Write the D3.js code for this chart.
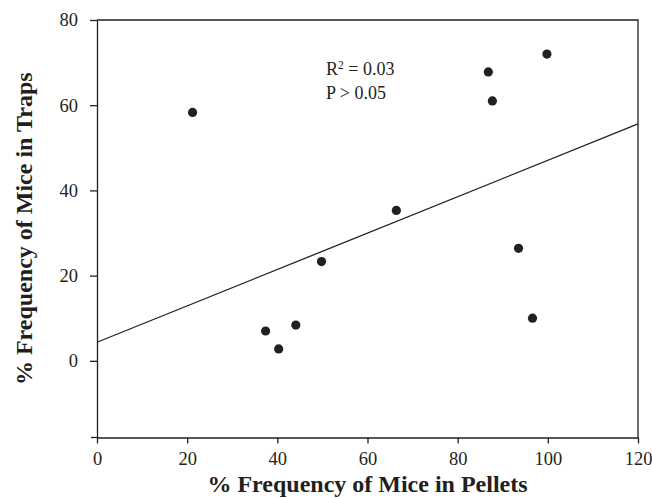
<!DOCTYPE html>
<html>
<head>
<meta charset="utf-8">
<script src="https://cdn.jsdelivr.net/npm/d3@7"></script>
<style>
  body { margin: 0; background: #fff; }
  svg { display: block; }
  text { font-family: "Liberation Serif", "Times New Roman", serif; fill: #231f20; }
</style>
</head>
<body>
<svg id="chart" width="652" height="498"></svg>
<script>
const pelletsPct = [21.2, 37.4, 40.3, 44.1, 49.8, 66.4, 86.8, 87.7, 99.8, 93.5, 96.6];
const trapsPct   = [58.3, 7.0, 2.8, 8.4, 23.3, 35.3, 67.8, 61.0, 72.0, 26.4, 10.0];
const fitIntercept = 4.36;
const fitSlope = 0.427;
const xTicks = [0, 20, 40, 60, 80, 100, 120];
const yTicks = [0, 20, 40, 60, 80];
const annotation = ["R", "2", " = 0.03", "P > 0.05"];

(function () {
const svg = d3.select("#chart");
const ink = "#231f20";
const pLeft = 97, pRight = 638, pTop = 20, pBottom = 437.5;

const x = d3.scaleLinear().domain([0, 120]).range([pLeft, pRight]);
const y = d3.scaleLinear().domain([-18, 80]).range([pBottom, pTop]);

// frame top & right
svg.append("path")
  .attr("d", `M${pLeft},${pTop}H${pRight}V${pBottom}`)
  .attr("fill", "none").attr("stroke", ink).attr("stroke-width", 1.3);

const xAxis = svg.append("g").attr("transform", `translate(0,${pBottom})`)
  .call(d3.axisBottom(x).tickValues(xTicks).tickSize(6).tickPadding(8).tickSizeOuter(0));
const yAxis = svg.append("g").attr("transform", `translate(${pLeft},0)`)
  .call(d3.axisLeft(y).tickValues(yTicks).tickSize(7).tickPadding(12).tickSizeOuter(0));

[xAxis, yAxis].forEach(g => {
  g.select(".domain").attr("stroke", ink).attr("stroke-width", 1.3);
  g.selectAll(".tick line").attr("stroke", ink).attr("stroke-width", 1.3);
  g.selectAll(".tick text").attr("font-family", "Liberation Serif").attr("font-size", 18.5).attr("fill", ink);
});
svg.append("line").attr("x1", pLeft - 6).attr("x2", pLeft).attr("y1", pBottom).attr("y2", pBottom)
  .attr("stroke", ink).attr("stroke-width", 1.3);

// regression line
svg.append("line")
  .attr("x1", x(0)).attr("y1", y(fitIntercept))
  .attr("x2", x(120)).attr("y2", y(fitIntercept + fitSlope * 120))
  .attr("stroke", ink).attr("stroke-width", 1.3);

// points
svg.append("g").selectAll("circle")
  .data(pelletsPct.map((v, i) => [v, trapsPct[i]]))
  .join("circle")
  .attr("cx", d => x(d[0])).attr("cy", d => y(d[1]))
  .attr("r", 4.6).attr("fill", ink);

// annotation
const t1 = svg.append("text").attr("x", 326).attr("y", 75).attr("font-size", 18);
t1.append("tspan").text(annotation[0]);
t1.append("tspan").attr("font-size", 11.5).attr("dy", -6.5).text(annotation[1]);
t1.append("tspan").attr("dy", 6.5).text(annotation[2]);
svg.append("text").attr("x", 326).attr("y", 98.5).attr("font-size", 18).text(annotation[3]);

// axis titles
svg.append("text").attr("x", (pLeft + pRight) / 2).attr("y", 492)
  .attr("text-anchor", "middle").attr("font-weight", "bold").attr("font-size", 24)
  .text("% Frequency of Mice in Pellets");
svg.append("text").attr("transform", `translate(32,${(pTop + pBottom) / 2}) rotate(-90)`)
  .attr("text-anchor", "middle").attr("font-weight", "bold").attr("font-size", 24)
  .text("% Frequency of Mice in Traps");
})();
</script>
</body>
</html>
